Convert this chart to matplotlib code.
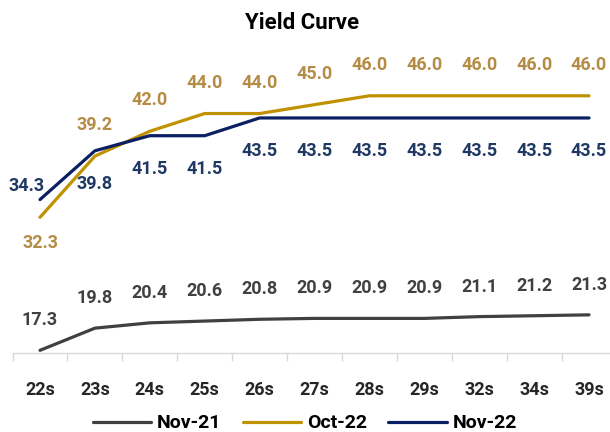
import matplotlib.pyplot as plt
import numpy as np

plt.rcParams['font.family'] = ['Roboto', 'DejaVu Sans']
plt.rcParams['font.weight'] = 'bold'

# Yield curve data
tenors = ["22s", "23s", "24s", "25s", "26s", "27s", "28s", "29s", "32s", "34s", "39s"]
nov21 = [17.3, 19.8, 20.4, 20.6, 20.8, 20.9, 20.9, 20.9, 21.1, 21.2, 21.3]
oct22 = [32.3, 39.2, 42.0, 44.0, 44.0, 45.0, 46.0, 46.0, 46.0, 46.0, 46.0]
nov22 = [34.3, 39.8, 41.5, 41.5, 43.5, 43.5, 43.5, 43.5, 43.5, 43.5, 43.5]

c_nov21 = "#404040"
c_oct22 = "#C09200"
c_oct22_lbl = "#B48C46"
c_nov22 = "#0A2062"
c_nov22_lbl = "#1F3864"

fig = plt.figure(figsize=(6.1, 4.32), dpi=100)
ax = fig.add_axes([0.0206, 0.1829, 0.990, 0.698])

x = np.arange(len(tenors))
lw = 2.3
ax.plot(x, nov21, color=c_nov21, lw=lw, label="Nov-21", solid_capstyle="round")
ax.plot(x, oct22, color=c_oct22, lw=lw, label="Oct-22", solid_capstyle="round")
ax.plot(x, nov22, color=c_nov22, lw=lw, label="Nov-22", solid_capstyle="round")

px = 72 / 100  # pixels -> points
fs = 13

def label(xi, yi, dx, dy, color):
    ax.annotate(f"{yi:.1f}", (xi, yi), xytext=(dx * px, dy * px), textcoords="offset points",
                ha="center", va="center", color=color, fontsize=fs, fontweight="bold")

for i, v in enumerate(nov21):
    label(i, v, 0, 30, c_nov21)
for i, v in enumerate(oct22):
    if i == 0:
        label(i, v, 0, -26, c_oct22_lbl)
    else:
        label(i, v, 0, 31, c_oct22_lbl)
for i, v in enumerate(nov22):
    if i == 0:
        label(i, v, -13, 14, c_nov22_lbl)
    else:
        label(i, v, 0, -33, c_nov22_lbl)

ax.set_xlim(-0.5, len(tenors) - 0.5)
ax.set_ylim(17.0, 51.0)
ax.set_yticks([])
ax.set_xticks(x)
ax.set_xticklabels(tenors, fontsize=fs, fontweight="bold", color="#262626")
ax.tick_params(axis="x", which="major", length=0, pad=20)
ax.set_xticks(np.arange(-0.5, len(tenors), 1), minor=True)
ax.tick_params(axis="x", which="minor", length=6, color="#D9D9D9", width=1)

for side in ["top", "right", "left"]:
    ax.spines[side].set_visible(False)
ax.spines["bottom"].set_color("#D9D9D9")
ax.spines["bottom"].set_linewidth(1)

fig.text(0.496, 0.947, "Yield Curve", ha="center", va="center", fontsize=16,
         fontweight="bold", color="black")

fig.legend(loc="center", bbox_to_anchor=(0.5, 0.02), ncol=3, frameon=False,
           fontsize=14, handlelength=3.0, handletextpad=0.3, columnspacing=1.1)

fig.savefig("out.png", dpi=100)
